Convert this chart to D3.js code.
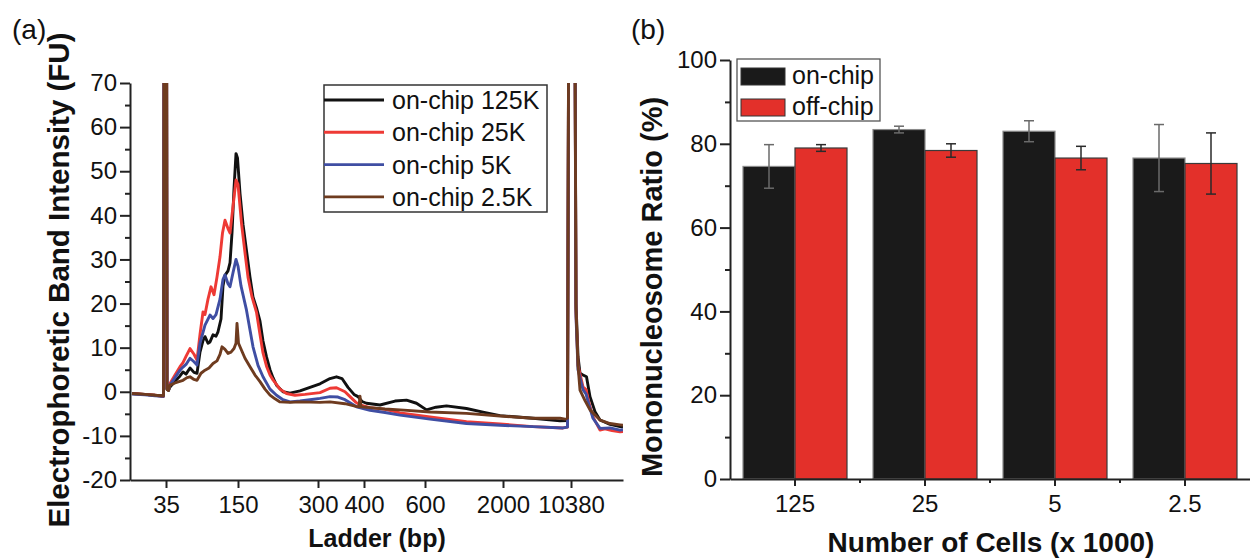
<!DOCTYPE html>
<html>
<head>
<meta charset="utf-8">
<script src="https://cdn.jsdelivr.net/npm/d3@7"></script>
<style>
  html, body { margin: 0; padding: 0; background: #ffffff; }
  svg { display: block; font-family: "Liberation Sans", Arial, sans-serif; }
</style>
</head>
<body>
<svg id="fig" width="1250" height="559"></svg>
<script>
// ---------- Panel (a): electropherogram traces ----------
// Each trace: [migration time (s), fluorescence (FU)]
const trace125K = [
  [20.4,-0.4],[23.0,-0.6],[25.0,-0.8],[26.7,-1.0],[27.1,300],[27.4,0.6],[27.7,0.3],[28.0,1.1],
  [29.0,2.4],[30.0,3.6],[30.6,4.5],[31.2,4.0],[32.0,5.4],[32.8,4.4],[33.4,4.2],[34.0,9.0],
  [34.6,11.6],[35.0,12.5],[35.6,11.0],[36.0,11.3],[36.6,12.9],[37.2,12.6],[37.6,13.6],[38.2,16.5],
  [38.6,24.0],[39.0,26.4],[39.6,27.4],[40.0,29.2],[40.4,36],[40.8,46],[41.2,54],[41.5,53],
  [42.0,45],[42.6,38],[43.3,32],[44.0,26],[44.6,21.5],[45.3,19],[46.0,16],[46.6,11.5],
  [47.3,7.9],[48.0,5.0],[48.6,3.2],[49.3,1.5],[50.6,0.0],[52.0,-0.3],[54.0,0.2],[56.0,1.0],
  [58.0,1.8],[60.0,3.0],[61.3,3.4],[62.4,3.0],[63.6,1.0],[64.8,-0.6],[65.6,-1.1],[66.4,-2.2],
  [67.3,-2.6],[70.0,-3.0],[73.0,-2.1],[75.3,-1.9],[77.3,-2.6],[79.3,-4.1],[81.2,-3.5],[83.3,-3.2],
  [87.3,-3.8],[90.6,-4.6],[94.0,-5.4],[100.6,-6.0],[106.0,-6.6],[107.5,-6.5],[108.3,300],[109.2,20],
  [109.6,8],[110.0,4.2],[110.6,3.8],[111.3,3.4],[112.0,-1.1],[113.0,-4.5],[114.0,-6.4],[116.0,-7.4],
  [118.0,-7.9],[118.6,-8.0]
];
const trace25K = [
  [20.4,-0.4],[23.0,-0.6],[25.0,-0.8],[26.7,-1.0],[27.1,300],[27.4,0.8],[27.7,0.5],[28.0,1.9],
  [29.0,3.8],[30.0,5.7],[30.6,6.6],[31.2,8.0],[32.0,9.8],[32.8,8.5],[33.4,7.2],[34.0,13.0],
  [34.6,18.1],[35.0,17.5],[35.6,21.0],[36.2,23.8],[36.8,22.0],[37.4,26.0],[38.0,30.6],[38.5,36.0],
  [39.0,38.9],[39.6,37.0],[40.0,36.0],[40.6,42.0],[41.2,48.0],[41.6,47.0],[42.3,38.2],[43.0,31.5],
  [43.6,26.0],[44.4,21.5],[45.3,18.0],[46.0,13.0],[46.6,8.8],[47.3,5.8],[48.0,3.8],[48.6,2.7],
  [50.0,0.6],[51.3,-0.4],[53.0,-0.8],[55.0,-0.6],[58.0,-0.2],[60.0,0.8],[61.3,0.9],[63.0,0.0],
  [64.0,-1.1],[65.2,-2.4],[66.0,-3.0],[68.0,-3.6],[71.0,-4.0],[74.0,-4.8],[80.0,-5.7],[87.3,-6.8],
  [94.0,-7.3],[100.6,-7.9],[106.6,-8.2],[107.5,-8.0],[108.3,300],[109.2,18],[109.6,6],[110.6,1.1],
  [111.2,0.5],[111.8,-2.5],[112.6,-5.7],[114.0,-8.7],[115.0,-8.4],[116.4,-8.8],[118.0,-9.1],[118.6,-9.0]
];
const trace5K = [
  [20.4,-0.5],[23.0,-0.7],[25.0,-0.9],[26.7,-1.0],[27.1,300],[27.4,0.7],[27.7,0.4],[28.0,1.5],
  [29.0,3.2],[30.0,4.9],[30.6,5.6],[31.2,6.2],[32.0,7.6],[32.8,6.8],[33.4,6.1],[34.0,11.0],
  [35.0,15.1],[36.0,17.4],[36.6,16.6],[37.2,17.5],[38.0,21.0],[38.6,25.5],[39.0,26.5],[39.6,24.5],
  [40.0,23.8],[40.6,27.0],[41.2,30.0],[41.6,28.5],[42.2,24.0],[42.8,21.0],[43.3,18.5],[44.0,14.0],
  [44.6,10.2],[45.6,6.0],[46.6,3.4],[48.0,0.6],[49.3,-0.8],[50.6,-1.8],[52.0,-2.3],[54.0,-2.1],
  [56.0,-1.8],[58.0,-1.5],[60.0,-1.1],[61.6,-1.2],[63.0,-1.8],[64.0,-2.5],[65.3,-3.4],[68.0,-4.2],
  [71.0,-4.7],[74.0,-5.3],[80.0,-6.2],[87.3,-7.2],[94.0,-7.6],[100.6,-7.9],[106.6,-8.2],[107.5,-8.0],
  [108.3,300],[109.2,17],[109.6,5],[110.6,0.5],[111.2,-0.5],[111.8,-3.0],[112.6,-6.0],[114.0,-8.3],
  [116.0,-8.2],[118.0,-8.7],[118.6,-8.6]
];
const trace2_5K = [
  [20.4,-0.4],[23.0,-0.6],[25.0,-0.8],[26.7,-0.9],[27.1,300],[27.4,0.5],[27.7,0.3],[28.0,1.5],
  [29.0,2.0],[30.6,2.6],[31.4,3.2],[32.0,3.4],[32.8,2.8],[33.4,2.6],[34.2,4.2],[35.0,4.9],
  [35.8,5.4],[36.6,6.4],[37.4,7.0],[38.0,8.5],[38.4,10.2],[39.0,9.6],[39.6,8.7],[40.2,9.0],
  [40.8,9.8],[41.2,11.0],[41.4,15.5],[41.7,11.0],[42.0,10.2],[43.0,7.6],[44.0,5.7],[45.0,3.8],
  [46.0,2.3],[47.0,0.6],[48.0,-0.75],[49.0,-1.6],[50.0,-2.3],[52.0,-2.4],[54.0,-2.3],[58.0,-2.4],
  [60.0,-2.3],[63.0,-2.7],[65.2,-3.3],[65.8,-3.4],[66.0,-1.0],[66.2,-3.4],[68.0,-3.6],[71.0,-3.9],
  [74.0,-4.1],[80.0,-4.6],[87.3,-4.9],[94.0,-5.5],[100.6,-6.0],[106.0,-6.0],[107.0,-6.2],[107.5,-6.0],
  [108.3,300],[109.2,19],[109.6,6],[110.0,0.4],[111.0,-2.0],[112.0,-4.1],[114.0,-6.4],[116.0,-7.2],
  [118.0,-7.5],[118.6,-7.6]
];
const traceNames = ["on-chip 125K", "on-chip 25K", "on-chip 5K", "on-chip 2.5K"];
const traceColors = ["#111111", "#ee3a35", "#3f4ea3", "#6e3b1f"];

// Ladder sizes (bp) and the migration times at which they run
const ladderLabels = ["35", "150", "300", "400", "600", "2000", "10380"];
const ladderTimes = [27.2, 41.6, 57.6, 66.8, 79.0, 94.6, 108.2];

const fuTicks = [-20, -10, 0, 10, 20, 30, 40, 50, 60, 70];
const fuMinorTicks = [-15, -5, 5, 15, 25, 35, 45, 55, 65];

// ---------- Panel (b): mononucleosome ratio ----------
const cellCounts = ["125", "25", "5", "2.5"];
const seriesNames = ["on-chip", "off-chip"];
const onChip = [74.6, 83.4, 83.0, 76.6];
const onChipErr = [5.2, 0.8, 2.5, 8.0];
const offChip = [79.0, 78.4, 76.6, 75.3];
const offChipErr = [0.8, 1.6, 2.8, 7.3];
const ratioTicks = [0, 20, 40, 60, 80, 100];
const ratioMinorTicks = [10, 30, 50, 70, 90];

const svg = d3.select("#fig");
const FONT = '"Liberation Sans", Arial, sans-serif';
const AXIS_COLOR = "#222";
const plainNumber = d => String(d);   // keeps the ASCII hyphen for negatives

function styleAxis(g, fontSize) {
  g.selectAll("path.domain").attr("stroke", AXIS_COLOR).attr("stroke-width", 2);
  g.selectAll(".tick line").attr("stroke", AXIS_COLOR).attr("stroke-width", 2);
  g.selectAll(".tick text").attr("font-size", fontSize).attr("font-family", FONT).attr("fill", "#111");
}

// ===== Panel (a) =====
const A = { left: 130, right: 623, top: 83, bottom: 480 };
const xA = d3.scaleLinear().domain([20, 118.6]).range([A.left, A.right]);
const yA = d3.scaleLinear().domain([-20, 70]).range([A.bottom, A.top]);

svg.append("defs").append("clipPath").attr("id", "clipA")
  .append("rect").attr("x", A.left).attr("y", A.top)
  .attr("width", A.right - A.left).attr("height", A.bottom - A.top);

const line = d3.line().x(d => xA(d[0])).y(d => yA(d[1]));
const traces = [trace125K, trace25K, trace5K, trace2_5K];
const gTr = svg.append("g").attr("clip-path", "url(#clipA)");
traces.forEach((tr, i) => {
  gTr.append("path").datum(tr)
    .attr("d", line)
    .attr("fill", "none")
    .attr("stroke", traceColors[i])
    .attr("stroke-width", 2.9)
    .attr("stroke-linejoin", "round");
});

// y axis (a)
const gyA = svg.append("g").attr("transform", `translate(${A.left},0)`)
  .call(d3.axisLeft(yA).tickValues(fuTicks).tickFormat(plainNumber)
    .tickSize(10).tickSizeOuter(0).tickPadding(3));
styleAxis(gyA, 24);
const gyAm = svg.append("g").attr("transform", `translate(${A.left},0)`)
  .call(d3.axisLeft(yA).tickValues(fuMinorTicks).tickSize(5).tickFormat(""));
gyAm.select("path.domain").remove();
gyAm.selectAll(".tick line").attr("stroke", AXIS_COLOR).attr("stroke-width", 2);

// x axis (a)
const gxA = svg.append("g").attr("transform", `translate(0,${A.bottom})`)
  .call(d3.axisBottom(xA).tickValues(ladderTimes)
    .tickFormat((d, i) => ladderLabels[i]).tickSize(8).tickSizeOuter(0).tickPadding(8));
styleAxis(gxA, 24);

// legend (a)
const legA = svg.append("g");
legA.append("rect").attr("x", 324).attr("y", 85).attr("width", 223).attr("height", 127)
  .attr("fill", "#fff").attr("stroke", "#333").attr("stroke-width", 1.5);
traceNames.forEach((name, i) => {
  const cy = 100 + i * 32.3;
  legA.append("line").attr("x1", 324).attr("x2", 384).attr("y1", cy).attr("y2", cy)
    .attr("stroke", traceColors[i]).attr("stroke-width", 2.9);
  legA.append("text").attr("x", 392).attr("y", cy + 9)
    .attr("font-size", 25).attr("font-family", FONT).attr("fill", "#111").text(name);
});

// titles (a)
svg.append("text").attr("x", 12).attr("y", 39).attr("font-size", 28)
  .attr("font-family", FONT).attr("fill", "#111").text("(a)");
svg.append("text").attr("transform", "translate(69,280) rotate(-90)")
  .attr("text-anchor", "middle").attr("font-size", 29.5).attr("font-weight", "bold")
  .attr("font-family", FONT).attr("fill", "#111").text("Electrophoretic Band Intensity (FU)");
svg.append("text").attr("x", 377).attr("y", 547).attr("text-anchor", "middle")
  .attr("font-size", 25).attr("font-weight", "bold").attr("font-family", FONT)
  .attr("fill", "#111").text("Ladder (bp)");

// ===== Panel (b) =====
const B = { left: 730, right: 1250, top: 60, bottom: 479 };
const xB = d3.scaleBand().domain(cellCounts).range([B.left, B.right])
  .paddingInner(0.2).paddingOuter(0.1);
const xSub = d3.scaleBand().domain(seriesNames).range([0, xB.bandwidth()]);
const yB = d3.scaleLinear().domain([0, 100]).range([B.bottom, B.top]);

const barColors = { "on-chip": "#1a1a1a", "off-chip": "#e3302a" };
const barStroke = { "on-chip": "#8a8a8a", "off-chip": "#3a3a3a" };
const barRows = cellCounts.map((c, i) => ({
  cat: c,
  vals: [
    { s: "on-chip", v: onChip[i], e: onChipErr[i] },
    { s: "off-chip", v: offChip[i], e: offChipErr[i] }
  ]
}));

const gBars = svg.append("g");
barRows.forEach(row => {
  row.vals.forEach(d => {
    gBars.append("rect")
      .attr("x", xB(row.cat) + xSub(d.s))
      .attr("y", yB(d.v))
      .attr("width", xSub.bandwidth())
      .attr("height", yB(0) - yB(d.v))
      .attr("fill", barColors[d.s])
      .attr("stroke", barStroke[d.s]).attr("stroke-width", 1.2);
  });
});
// error bars
barRows.forEach(row => {
  row.vals.forEach(d => {
    const cx = xB(row.cat) + xSub(d.s) + xSub.bandwidth() / 2;
    const col = d.s === "on-chip" ? "#6a6a6a" : "#2a2a2a";
    const g = gBars.append("g").attr("stroke", col).attr("stroke-width", 1.5);
    g.append("line").attr("x1", cx).attr("x2", cx).attr("y1", yB(d.v + d.e)).attr("y2", yB(d.v - d.e));
    [d.v + d.e, d.v - d.e].forEach(v => {
      g.append("line").attr("x1", cx - 5).attr("x2", cx + 5).attr("y1", yB(v)).attr("y2", yB(v));
    });
  });
});

// y axis (b)
const gyB = svg.append("g").attr("transform", `translate(${B.left},0)`)
  .call(d3.axisLeft(yB).tickValues(ratioTicks).tickFormat(plainNumber)
    .tickSize(10).tickSizeOuter(0).tickPadding(3));
styleAxis(gyB, 24);
const gyBm = svg.append("g").attr("transform", `translate(${B.left},0)`)
  .call(d3.axisLeft(yB).tickValues(ratioMinorTicks).tickSize(5).tickFormat(""));
gyBm.select("path.domain").remove();
gyBm.selectAll(".tick line").attr("stroke", AXIS_COLOR).attr("stroke-width", 2);

// x axis (b)
const gxB = svg.append("g").attr("transform", `translate(0,${B.bottom})`)
  .call(d3.axisBottom(xB).tickSize(7).tickSizeOuter(0).tickPadding(9));
styleAxis(gxB, 24);
const midTicks = cellCounts.slice(0, -1).map(c => xB(c) + xB.bandwidth() + xB.step() * xB.paddingInner() / 2);
gxB.selectAll("line.minor").data(midTicks).enter().append("line")
  .attr("x1", d => d).attr("x2", d => d).attr("y1", 0).attr("y2", 4)
  .attr("stroke", AXIS_COLOR).attr("stroke-width", 2);

// legend (b)
const legB = svg.append("g");
legB.append("rect").attr("x", 737).attr("y", 59).attr("width", 143).attr("height", 62)
  .attr("fill", "#fff").attr("stroke", "#555").attr("stroke-width", 1.3);
seriesNames.forEach((name, i) => {
  const top = 68 + i * 31;
  legB.append("rect").attr("x", 741).attr("y", top).attr("width", 44).attr("height", 17)
    .attr("fill", barColors[name]).attr("stroke", "#333").attr("stroke-width", 1);
  legB.append("text").attr("x", 792).attr("y", top + 16)
    .attr("font-size", 25).attr("font-family", FONT).attr("fill", "#111").text(name);
});

// titles (b)
svg.append("text").attr("x", 631).attr("y", 39).attr("font-size", 28)
  .attr("font-family", FONT).attr("fill", "#111").text("(b)");
svg.append("text").attr("transform", "translate(662,287) rotate(-90)")
  .attr("text-anchor", "middle").attr("font-size", 29).attr("font-weight", "bold")
  .attr("font-family", FONT).attr("fill", "#111").text("Mononucleosome Ratio (%)");
svg.append("text").attr("x", 991).attr("y", 552).attr("text-anchor", "middle")
  .attr("font-size", 28).attr("font-weight", "bold").attr("font-family", FONT)
  .attr("fill", "#111").text("Number of Cells (x 1000)");
</script>
</body>
</html>
